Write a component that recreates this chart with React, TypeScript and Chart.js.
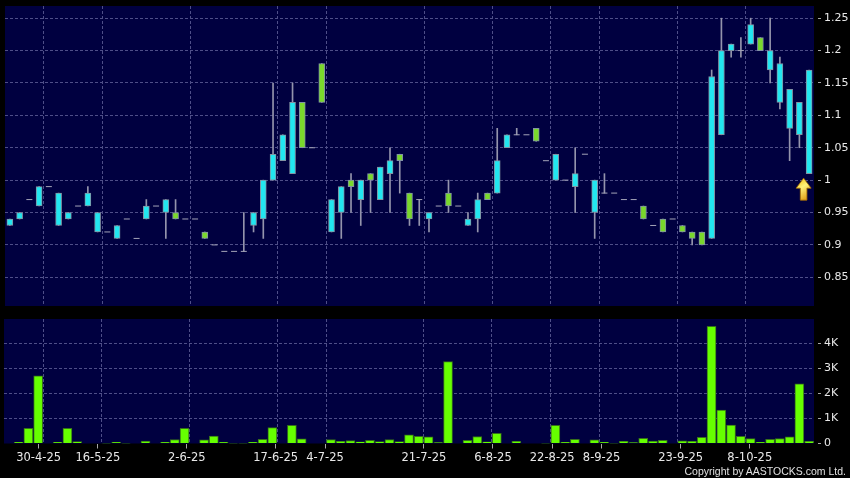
import React, { useEffect, useRef } from 'react';
import { Chart, registerables } from 'chart.js';

Chart.register(...registerables);

// ---- data ----
const openP = [
  0.93, 0.94, 0.97, 0.96, 0.99, 0.93, 0.94, 0.96, 0.96, 0.92,
  0.92, 0.91, 0.94, 0.91, 0.94, 0.96, 0.95, 0.95, 0.94, 0.94,
  0.92, 0.90, 0.89, 0.89, 0.89, 0.93, 0.94, 1.00, 1.03, 1.01,
  1.12, 1.05, 1.18, 0.92, 0.95, 1.00, 0.97, 1.01, 0.97, 1.01,
  1.04, 0.98, 0.97, 0.94, 0.96, 0.98, 0.96, 0.93, 0.94, 0.98,
  0.98, 1.05, 1.07, 1.07, 1.08, 1.03, 1.00, 1.00, 0.99, 1.04,
  0.95, 0.98, 0.98, 0.97, 0.97, 0.96, 0.93, 0.94, 0.94, 0.93,
  0.92, 0.92, 0.91, 1.07, 1.20, 1.20, 1.21, 1.22, 1.17, 1.12,
  1.08, 1.07, 1.01,
];
const highP = [
  0.94, 0.95, 0.97, 0.99, 0.99, 0.98, 0.95, 0.96, 0.99, 0.95,
  0.92, 0.93, 0.94, 0.91, 0.97, 0.96, 0.97, 0.97, 0.94, 0.94,
  0.92, 0.90, 0.89, 0.89, 0.95, 0.95, 1.00, 1.15, 1.07, 1.15,
  1.12, 1.05, 1.18, 0.97, 0.99, 1.01, 1.00, 1.01, 1.02, 1.05,
  1.04, 0.98, 0.97, 0.95, 0.96, 1.00, 0.96, 0.95, 0.98, 0.98,
  1.08, 1.07, 1.08, 1.07, 1.08, 1.03, 1.04, 1.00, 1.05, 1.04,
  1.00, 1.01, 0.98, 0.97, 0.97, 0.96, 0.93, 0.94, 0.94, 0.93,
  0.92, 0.92, 1.17, 1.25, 1.21, 1.22, 1.25, 1.22, 1.25, 1.19,
  1.14, 1.12, 1.17,
];
const lowP = [
  0.93, 0.94, 0.97, 0.96, 0.99, 0.93, 0.94, 0.96, 0.96, 0.92,
  0.92, 0.91, 0.94, 0.91, 0.94, 0.96, 0.91, 0.94, 0.94, 0.94,
  0.91, 0.90, 0.89, 0.89, 0.89, 0.92, 0.91, 1.00, 1.03, 1.01,
  1.05, 1.05, 1.12, 0.92, 0.91, 0.95, 0.93, 0.95, 0.97, 0.95,
  0.98, 0.93, 0.93, 0.92, 0.96, 0.95, 0.96, 0.93, 0.92, 0.97,
  0.98, 1.05, 1.07, 1.07, 1.06, 1.03, 1.00, 1.00, 0.95, 1.04,
  0.91, 0.98, 0.98, 0.97, 0.97, 0.94, 0.93, 0.92, 0.94, 0.92,
  0.90, 0.90, 0.91, 1.07, 1.19, 1.19, 1.21, 1.20, 1.15, 1.11,
  1.03, 1.05, 1.01,
];
const closeP = [
  0.94, 0.95, 0.97, 0.99, 0.99, 0.98, 0.95, 0.96, 0.98, 0.95,
  0.92, 0.93, 0.94, 0.91, 0.96, 0.96, 0.97, 0.94, 0.94, 0.94,
  0.91, 0.90, 0.89, 0.89, 0.89, 0.95, 1.00, 1.04, 1.07, 1.12,
  1.05, 1.05, 1.12, 0.97, 0.99, 0.99, 1.00, 1.00, 1.02, 1.03,
  1.03, 0.94, 0.97, 0.95, 0.96, 0.96, 0.96, 0.94, 0.97, 0.97,
  1.03, 1.07, 1.07, 1.07, 1.06, 1.03, 1.04, 1.00, 1.01, 1.04,
  1.00, 0.98, 0.98, 0.97, 0.97, 0.94, 0.93, 0.92, 0.94, 0.92,
  0.91, 0.90, 1.16, 1.20, 1.21, 1.20, 1.24, 1.20, 1.20, 1.18,
  1.14, 1.12, 1.17,
];
const volume = [
  0, 50, 600, 2700, 0, 50, 600, 80, 0, 0,
  10, 50, 10, 0, 100, 0, 50, 160, 600, 0,
  150, 300, 50, 10, 10, 50, 170, 630, 0, 720,
  190, 0, 0, 160, 90, 120, 70, 130, 80, 160,
  80, 350, 290, 270, 40, 3260, 0, 130, 280, 70,
  410, 0, 90, 0, 0, 10, 720, 50, 170, 0,
  150, 50, 10, 90, 40, 210, 100, 130, 0, 110,
  90, 250, 4670, 1330, 730, 290, 200, 50, 170, 200,
  270, 2380, 90,
];
const dateLabels = ['30-4-25', '16-5-25', '2-6-25', '17-6-25', '4-7-25', '21-7-25', '6-8-25', '22-8-25', '8-9-25', '23-9-25', '8-10-25'];
const dateIndex = [3, 9, 18, 27, 32, 42, 49, 55, 60, 68, 75];
const priceTicks = [0.85, 0.9, 0.95, 1.0, 1.05, 1.1, 1.15, 1.2, 1.25];
const volumeTicks = [0, 1000, 2000, 3000, 4000];

// ---- styles ----
const NAVY = '#000040';
const GRID = '#4e4e88';
const TICK = '#a8a8a8';
const LABEL = '#e8e8e8';
const UP = '#22e6f0';
const DOWN = '#7ad82c';
const CANDLE_BORDER = '#8193a3';
const WICK = '#9494ac';
const DASH = '#a4a4b8';
const VOL = '#66ff00';
const VOL_BORDER = '#36701a';
const FONT = { family: 'DejaVu Sans', size: 11 };
const XFONT = { family: 'DejaVu Sans', size: 11.5 };

const N = closeP.length;
const arrowIndex = N - 1;

const noPad = (s: any) => {
  s.paddingTop = 0;
  s.paddingBottom = 0;
  s.paddingLeft = 0;
  s.paddingRight = 0;
};

const panelBg = {
  id: 'panelBg',
  beforeDraw(chart: any) {
    const { ctx, chartArea: a } = chart;
    ctx.save();
    ctx.fillStyle = NAVY;
    ctx.fillRect(a.left, a.top, a.right - a.left, a.bottom - a.top);
    ctx.restore();
  },
};

const arrowPlugin = {
  id: 'upArrow',
  afterDatasetsDraw(chart: any) {
    const { ctx } = chart;
    const x = chart.scales.x;
    const y = chart.scales.y;
    const cx = x.getPixelForValue(arrowIndex) - 5.5;
    const tip = y.getPixelForValue(lowP[arrowIndex]) + 4.5;
    ctx.save();
    const g = ctx.createLinearGradient(cx - 7, tip, cx + 7, tip + 22);
    g.addColorStop(0, '#f2b800');
    g.addColorStop(0.4, '#fff27a');
    g.addColorStop(1, '#d98c00');
    ctx.beginPath();
    ctx.moveTo(cx, tip);
    ctx.lineTo(cx + 7.5, tip + 10);
    ctx.lineTo(cx + 3.3, tip + 10);
    ctx.lineTo(cx + 3.3, tip + 22);
    ctx.lineTo(cx - 3.3, tip + 22);
    ctx.lineTo(cx - 3.3, tip + 10);
    ctx.lineTo(cx - 7.5, tip + 10);
    ctx.closePath();
    ctx.fillStyle = g;
    ctx.fill();
    ctx.strokeStyle = '#a86f00';
    ctx.lineWidth = 0.8;
    ctx.stroke();
    ctx.restore();
  },
};

const gridX = () => ({
  type: 'linear',
  min: -0.5,
  max: N - 0.5,
  offset: false,
  grid: { color: GRID, offset: false, drawTicks: false },
  border: { display: false, dash: [3, 2] },
  ticks: { display: false },
  afterBuildTicks: (s: any) => {
    s.ticks = dateIndex.map((v) => ({ value: v + 0.5 }));
  },
  afterFit: (s: any) => {
    s.height = 0;
    noPad(s);
  },
});

export default function App() {
  const topRef = useRef<HTMLCanvasElement>(null);
  const botRef = useRef<HTMLCanvasElement>(null);

  useEffect(() => {
    const wickData: any[] = [];
    const bodyData: any[] = [];
    const bodyColors: string[] = [];
    const dashData: any[] = [];
    for (let i = 0; i < N; i++) {
      if (highP[i] !== lowP[i]) wickData.push({ x: i, y: [lowP[i], highP[i]] });
      if (openP[i] === closeP[i]) {
        dashData.push({ x: i, y: closeP[i] });
      } else {
        bodyData.push({ x: i, y: [Math.min(openP[i], closeP[i]), Math.max(openP[i], closeP[i])] });
        bodyColors.push(closeP[i] > openP[i] ? UP : DOWN);
      }
    }
    const volData = volume.map((v, i) => ({ x: i, y: v }));

    const top = new Chart(topRef.current as HTMLCanvasElement, {
      type: 'bar',
      data: {
        datasets: [
          {
            type: 'bar',
            data: wickData,
            backgroundColor: WICK,
            borderWidth: 0,
            barThickness: 1,
            grouped: false,
            order: 3,
          } as any,
          {
            type: 'bar',
            data: bodyData,
            backgroundColor: bodyColors,
            borderColor: CANDLE_BORDER,
            borderWidth: 1,
            borderSkipped: false,
            barThickness: 6,
            grouped: false,
            order: 2,
          } as any,
          {
            type: 'line',
            data: dashData,
            showLine: false,
            pointStyle: 'line',
            pointRadius: 3,
            pointBorderWidth: 1,
            borderColor: DASH,
            order: 1,
          } as any,
        ],
      },
      options: {
        responsive: false,
        animation: false,
        events: [],
        layout: { padding: { left: 4, top: 6, right: 0, bottom: 6 } },
        plugins: { legend: { display: false }, tooltip: { enabled: false } },
        scales: {
          x: gridX() as any,
          y: {
            position: 'right',
            min: 0.8057,
            max: 1.2688,
            grid: { color: GRID, tickLength: 7, tickColor: TICK, tickBorderDash: [0, 4, 3, 50] },
            border: { display: false, dash: [3, 2] },
            ticks: {
              color: LABEL,
              font: FONT,
              padding: 3,
              callback: (v: any) => String(+Number(v).toFixed(2)),
            },
            afterBuildTicks: (s: any) => {
              s.ticks = priceTicks.map((v) => ({ value: v }));
            },
            afterFit: (s: any) => {
              s.width = 36;
              noPad(s);
            },
          } as any,
        },
      },
      plugins: [panelBg, arrowPlugin],
    });

    const bot = new Chart(botRef.current as HTMLCanvasElement, {
      type: 'bar',
      data: {
        datasets: [
          {
            type: 'bar',
            xAxisID: 'x',
            data: volData,
            backgroundColor: VOL,
            borderColor: VOL_BORDER,
            borderWidth: 1,
            barThickness: 9,
          } as any,
        ],
      },
      options: {
        responsive: false,
        animation: false,
        events: [],
        layout: { padding: { left: 4, top: 7, right: 0, bottom: 0 } },
        plugins: { legend: { display: false }, tooltip: { enabled: false } },
        scales: {
          x: gridX() as any,
          x2: {
            type: 'linear',
            axis: 'x',
            position: 'bottom',
            min: -0.5,
            max: N - 1.5,
            offset: false,
            grid: { drawOnChartArea: false, drawTicks: true, tickLength: 5, tickColor: TICK, offset: false },
            border: { display: false },
            ticks: {
              color: LABEL,
              font: XFONT,
              padding: 3,
              autoSkip: false,
              maxRotation: 0,
              minRotation: 0,
              callback: (v: any) => {
                const k = dateIndex.indexOf(Number(v));
                return k >= 0 ? dateLabels[k] : '';
              },
            },
            afterBuildTicks: (s: any) => {
              s.ticks = dateIndex.map((v) => ({ value: v }));
            },
            afterFit: (s: any) => {
              s.height = 34.5;
              noPad(s);
            },
          } as any,
          y: {
            position: 'right',
            min: 0,
            max: 4960,
            grid: {
              color: (c: any) => (c.tick && c.tick.value === 0 ? 'rgba(0,0,0,0)' : GRID),
              tickLength: 7,
              tickColor: TICK,
              tickBorderDash: [0, 4, 3, 50],
            },
            border: { display: false, dash: [3, 2] },
            ticks: {
              color: LABEL,
              font: FONT,
              padding: 3,
              callback: (v: any) => (Number(v) === 0 ? '0' : Number(v) / 1000 + 'K'),
            },
            afterBuildTicks: (s: any) => {
              s.ticks = volumeTicks.map((v) => ({ value: v }));
            },
            afterFit: (s: any) => {
              s.width = 36;
              noPad(s);
            },
          } as any,
        },
      },
      plugins: [panelBg],
    });

    return () => {
      top.destroy();
      bot.destroy();
    };
  }, []);

  return (
    <div style={{ position: 'fixed', left: 0, top: 0, width: 850, height: 478, background: '#000', overflow: 'hidden' }}>
      <canvas ref={topRef} width={850} height={312} style={{ position: 'absolute', left: 0, top: 0 }} />
      <canvas ref={botRef} width={850} height={166} style={{ position: 'absolute', left: 0, top: 312 }} />
      <div
        style={{
          position: 'absolute',
          right: 4,
          top: 465,
          font: '10.5px "Liberation Sans"',
          lineHeight: 'normal',
          color: '#e0e0e0',
          whiteSpace: 'nowrap',
        }}
      >
        Copyright by AASTOCKS.com Ltd.
      </div>
    </div>
  );
}
